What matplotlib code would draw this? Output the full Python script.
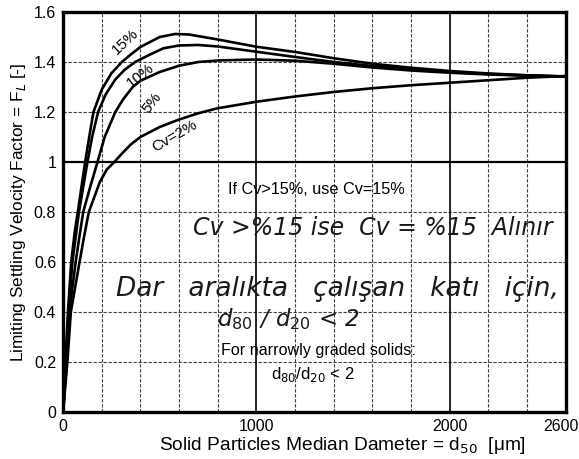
import numpy as np
import matplotlib
matplotlib.use('Agg')
import matplotlib.pyplot as plt
from matplotlib.transforms import ScaledTranslation

plt.rcParams['font.family'] = ['Liberation Sans', 'DejaVu Sans']

# FL curves for each solids concentration (d50 in um, FL)
d_15 = [0, 12, 25, 42, 60, 76, 95, 114, 135, 157, 200, 250, 304, 350, 400, 450,
        500, 580, 650, 800, 1000, 1200, 1400, 1600, 1800, 2000, 2200, 2400, 2600]
fl_15 = [0, 0.2, 0.4, 0.6, 0.72, 0.8, 0.9, 1.0, 1.1, 1.2, 1.29, 1.355, 1.4, 1.43,
         1.46, 1.48, 1.50, 1.512, 1.51, 1.49, 1.461, 1.44, 1.415, 1.393, 1.377,
         1.364, 1.354, 1.347, 1.342]

d_10 = [0, 15, 28, 48, 65, 82, 104, 126, 150, 181, 220, 270, 320, 373, 450, 520,
        600, 700, 800, 1000, 1200, 1400, 1600, 1800, 2000, 2200, 2400, 2600]
fl_10 = [0, 0.2, 0.4, 0.6, 0.7, 0.8, 0.9, 1.0, 1.1, 1.2, 1.27, 1.33, 1.37, 1.4,
         1.43, 1.455, 1.466, 1.468, 1.462, 1.441, 1.42, 1.40, 1.384, 1.371,
         1.36, 1.352, 1.346, 1.342]

d_5 = [0, 18, 32, 65, 84, 104, 140, 178, 215, 270, 310, 360, 400, 500, 600, 700,
       800, 1000, 1200, 1400, 1600, 1800, 2000, 2200, 2400, 2600]
fl_5 = [0, 0.2, 0.4, 0.6, 0.7, 0.8, 0.9, 1.0, 1.1, 1.2, 1.25, 1.3, 1.325, 1.36,
        1.385, 1.4, 1.406, 1.41, 1.405, 1.393, 1.378, 1.366, 1.357, 1.35, 1.345,
        1.342]

d_2 = [0, 22, 40, 85, 108, 133, 190, 226, 265, 300, 350, 400, 500, 600, 700,
       800, 1000, 1200, 1400, 1600, 1800, 2000, 2200, 2400, 2600]
fl_2 = [0, 0.2, 0.4, 0.6, 0.7, 0.8, 0.92, 0.97, 1.0, 1.03, 1.07, 1.10, 1.14, 1.17,
        1.195, 1.215, 1.241, 1.262, 1.28, 1.295, 1.307, 1.317, 1.327, 1.337, 1.344]

curve_labels = ['15%', '10%', '5%', 'Cv=2%']
x_ticks = [0, 1000, 2000, 2600]
y_ticks = [0, 0.2, 0.4, 0.6, 0.8, 1.0, 1.2, 1.4, 1.6]
y_tick_labels = ['0', '0.2', '0.4', '0.6', '0.8', '1', '1.2', '1.4', '1.6']

fig = plt.figure(figsize=(5.79, 4.59), dpi=100)
ax = fig.add_axes([0.109, 0.1024, 0.868, 0.8715])
ax.set_xlim(0, 2600)
ax.set_ylim(0, 1.6)

# grid: dashed minor lines, solid at 1000/2000 and FL=1
for gx in range(200, 2600, 200):
    if gx in (1000, 2000):
        ax.axvline(gx, color='black', lw=1.2, zorder=1)
    else:
        ax.axvline(gx, color='black', lw=0.8, ls=(0, (3, 1.5)), alpha=0.75, zorder=1)
for gy in y_ticks[1:-1]:
    if gy == 1.0:
        ax.axhline(gy, color='black', lw=1.6, zorder=1)
    else:
        ax.axhline(gy, color='black', lw=0.8, ls=(0, (3, 1.5)), alpha=0.75, zorder=1)

for d, fl in [(d_15, fl_15), (d_10, fl_10), (d_5, fl_5), (d_2, fl_2)]:
    ax.plot(d, fl, color='black', lw=1.9, solid_joinstyle='round',
            solid_capstyle='round', zorder=3)

# curve names sit just under their own curve (15% just above)
label_pos = [(320, 1.48, 43), (398, 1.345, 38), (460, 1.235, 52), (575, 1.105, 30)]
for txt, (lx, ly, rot) in zip(curve_labels, label_pos):
    ax.text(lx, ly, txt, rotation=rot, fontsize=11, ha='center', va='center',
            rotation_mode='anchor', zorder=4)

ax.text(1311, 0.888, 'If Cv>15%, use Cv=15%', fontsize=11.7, ha='center',
        va='center', zorder=4)
ax.text(1321, 0.245, 'For narrowly graded solids:', fontsize=11.6, ha='center',
        va='center', zorder=4)
ax.text(1290, 0.15, 'd$_{80}$/d$_{20}$ < 2', fontsize=12, ha='center',
        va='center', zorder=4)

# handwritten notes
hand = dict(family=['DejaVu Sans'], style='italic', ha='center', va='center',
            color='#1a1a1a', zorder=4)
ax.text(1600, 0.735, 'Cv >%15 ise  Cv = %15  Alınır', fontsize=17, **hand)
ax.text(1420, 0.49, 'Dar   aralıkta   çalışan   katı   için,', fontsize=19, **hand)
ax.text(1165, 0.37, 'd$_{80}$ / d$_{20}$ < 2', fontsize=16.5, **hand)

ax.set_xticks(x_ticks)
ax.set_xticklabels([str(v) for v in x_ticks])
ax.set_yticks(y_ticks)
ax.set_yticklabels(y_tick_labels)
ax.tick_params(length=0, labelsize=11.5, pad=5)
last = ax.get_xticklabels()[-1]
last.set_horizontalalignment('right')
last.set_transform(last.get_transform() + ScaledTranslation(0.13, 0, fig.dpi_scale_trans))

for s in ax.spines.values():
    s.set_linewidth(2.4)

ax.set_xlabel('Solid Particles Median Dameter = d$_{50}$  [\u03bcm]', fontsize=13.8)
ax.xaxis.set_label_coords(0.555, -0.058)
ax.set_ylabel('Limiting Settling Velocity Factor = F$_L$ [-]', fontsize=12.4,
              labelpad=4)

fig.savefig('out.png', dpi=100)
